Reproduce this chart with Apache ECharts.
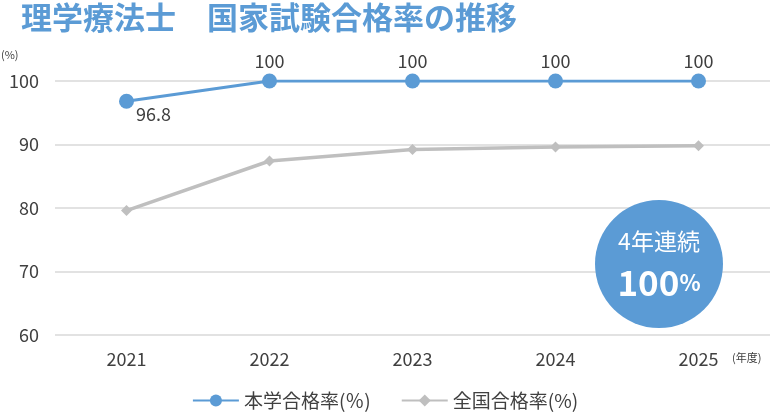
<!DOCTYPE html>
<html>
<head>
<meta charset="utf-8">
<script src="https://cdn.jsdelivr.net/npm/echarts@6/dist/echarts.min.js"></script>
<style>
  html, body { margin: 0; padding: 0; background: #fff; }
  #chart { width: 770px; height: 413px; }
</style>
</head>
<body>
<div id="chart"></div>
<script>
const years = ['2021', '2022', '2023', '2024', '2025']
const schoolRate = [96.8, 100, 100, 100, 100]
const nationalRate = [79.6, 87.4, 89.2, 89.6, 89.8]
const yTicks = [60, 70, 80, 90, 100]

const blue = '#5b9bd5'
const gray = '#bfbfbf'
const textColor = '#404040'
const font = '"Noto Sans CJK JP", "Noto Sans", sans-serif'

const chart = echarts.init(document.getElementById('chart'))

chart.setOption({
  animation: false,
  textStyle: { fontFamily: font },
  title: {
    text: '理学療法士　国家試験合格率の推移',
    left: 16,
    top: -3,
    textStyle: { color: blue, fontSize: 31, fontWeight: 'bold', fontFamily: font }
  },
  grid: { left: 55, right: 0, top: 81, bottom: 78 },
  legend: {
    bottom: -2,
    left: 'center',
    itemWidth: 46,
    itemHeight: 15,
    itemGap: 30,
    textStyle: { color: textColor, fontSize: 19, fontFamily: font },
    data: ['本学合格率(％)', '全国合格率(%)']
  },
  xAxis: {
    type: 'category',
    data: years,
    axisLine: { show: false },
    axisTick: { show: false },
    axisLabel: { color: textColor, fontSize: 18, margin: 15 }
  },
  yAxis: {
    type: 'value',
    min: yTicks[0],
    max: yTicks[yTicks.length - 1],
    interval: 10,
    axisLabel: { color: textColor, fontSize: 18, margin: 16 },
    splitLine: { lineStyle: { color: '#d9d9d9', width: 1.5 } }
  },
  graphic: [
    { type: 'text', left: 1, top: 49, style: { text: '(%)', fontSize: 11, fill: textColor, fontFamily: font } },
    { type: 'text', left: 732, top: 352, style: { text: '(年度)', fontSize: 11, fill: textColor, fontFamily: font } },
    {
      type: 'circle',
      shape: { cx: 659, cy: 264, r: 64 },
      style: { fill: blue },
      z: 10
    },
    {
      type: 'text', x: 659, y: 241, z: 11,
      style: { text: '4年連続', fill: '#fff', fontSize: 23, align: 'center', verticalAlign: 'middle', fontFamily: font }
    },
    {
      type: 'text', x: 659, y: 283, z: 11,
      style: {
        text: '{a|100}{b|%}',
        align: 'center', verticalAlign: 'middle',
        rich: {
          a: { fill: '#fff', fontSize: 35, fontWeight: 'bold', fontFamily: font },
          b: { fill: '#fff', fontSize: 22, fontWeight: 'bold', fontFamily: font }
        }
      }
    }
  ],
  series: [
    {
      name: '本学合格率(％)',
      type: 'line',
      data: schoolRate.map((v, i) => i === 0
        ? { value: v, label: { position: 'bottom', offset: [27, -7] } }
        : v),
      color: blue,
      symbol: 'circle',
      symbolSize: 15,
      lineStyle: { width: 3, color: blue },
      itemStyle: { color: blue },
      z: 3,
      label: {
        show: true,
        color: textColor,
        fontSize: 18,
        position: 'top',
        distance: 3
      },
      emphasis: { disabled: true }
    },
    {
      name: '全国合格率(%)',
      type: 'line',
      data: nationalRate,
      color: gray,
      symbol: 'diamond',
      symbolSize: 11,
      lineStyle: { width: 3.5, color: gray },
      itemStyle: { color: gray },
      z: 2,
      emphasis: { disabled: true }
    }
  ]
})
</script>
</body>
</html>
